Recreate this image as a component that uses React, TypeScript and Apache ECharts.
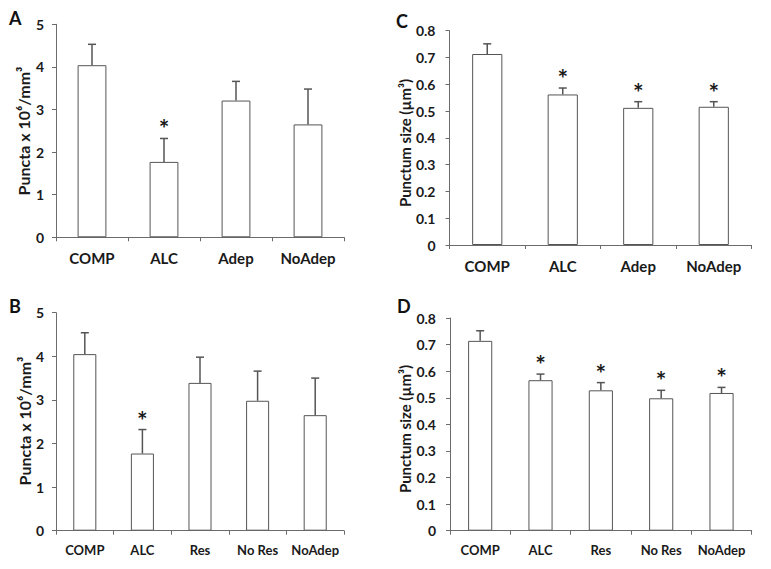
import React, { useEffect, useRef } from "react";
import * as echarts from "echarts";

const catsAC = ["COMP", "ALC", "Adep", "NoAdep"];
const catsBD = ["COMP", "ALC", "Res", "No Res", "NoAdep"];

const meanA = [4.04, 1.77, 3.21, 2.65];
const errA = [4.53, 2.32, 3.66, 3.48];
const starA = [false, true, false, false];

const meanB = [4.05, 1.77, 3.39, 2.98, 2.65];
const errB = [4.54, 2.32, 3.98, 3.66, 3.5];
const starB = [false, true, false, false, false];

const meanC = [0.713, 0.562, 0.512, 0.516];
const errC = [0.751, 0.586, 0.535, 0.535];
const starC = [false, true, true, true];

const meanD = [0.714, 0.566, 0.528, 0.498, 0.518];
const errD = [0.752, 0.589, 0.557, 0.528, 0.539];
const starD = [false, true, true, true, true];

const FONT = "Lato";
const AXIS_COLOR = "#6b6b6b";
const TEXT_COLOR = "#1a1a1a";

type Panel = {
  cats: string[];
  mean: number[];
  err: number[];
  star: boolean[];
  max: number;
  interval: number;
  name: string;
  grid: { left: number; top: number; width: number; height: number };
  labelSize: number;
  labelMargin: number;
  nameX: number;
  nameY: number;
  nameSize: number;
  decimals: number;
};

const panels: Panel[] = [
  {
    cats: catsAC, mean: meanA, err: errA, star: starA, max: 5, interval: 1,
    name: "Puncta x 10⁶/mm³",
    grid: { left: 56, top: 24.3, width: 288, height: 213 },
    labelSize: 15, labelMargin: 12, nameX: 23, nameY: 131, nameSize: 16, decimals: 0,
  },
  {
    cats: catsAC, mean: meanC, err: errC, star: starC, max: 0.8, interval: 0.1,
    name: "Punctum size (µm³)",
    grid: { left: 449.5, top: 30.7, width: 302, height: 214.3 },
    labelSize: 15, labelMargin: 14, nameX: 405, nameY: 143, nameSize: 15, decimals: 1,
  },
  {
    cats: catsBD, mean: meanB, err: errB, star: starB, max: 5, interval: 1,
    name: "Puncta x 10⁶/mm³",
    grid: { left: 56, top: 312.7, width: 288, height: 218 },
    labelSize: 13, labelMargin: 12, nameX: 24, nameY: 421, nameSize: 16, decimals: 0,
  },
  {
    cats: catsBD, mean: meanD, err: errD, star: starD, max: 0.8, interval: 0.1,
    name: "Punctum size (µm³)",
    grid: { left: 450, top: 318, width: 301.7, height: 212.7 },
    labelSize: 13, labelMargin: 14, nameX: 405, nameY: 429, nameSize: 15, decimals: 1,
  },
];

const letters = [
  { t: "A", x: 9, y: 9 },
  { t: "C", x: 396, y: 12 },
  { t: "B", x: 9, y: 297 },
  { t: "D", x: 397, y: 297 },
];

export default function App() {
  const ref = useRef<HTMLDivElement>(null);
  useEffect(() => {
    if (!ref.current) return;
    const chart = echarts.init(ref.current, undefined, { renderer: "svg" });
    const grid: any[] = [];
    const xAxis: any[] = [];
    const yAxis: any[] = [];
    const series: any[] = [];
    panels.forEach((p, i) => {
      grid.push({ ...p.grid, containLabel: false });
      xAxis.push({
        type: "category",
        gridIndex: i,
        data: p.cats,
        axisLine: { lineStyle: { color: AXIS_COLOR, width: 1 } },
        axisTick: { show: true, length: 4, lineStyle: { color: AXIS_COLOR } },
        axisLabel: {
          color: TEXT_COLOR, fontFamily: FONT, fontWeight: "bold",
          fontSize: p.labelSize, margin: 13, interval: 0,
        },
      });
      yAxis.push({
        type: "value",
        gridIndex: i,
        min: 0,
        max: p.max,
        interval: p.interval,
        splitLine: { show: false },
        axisLine: { show: true, lineStyle: { color: AXIS_COLOR, width: 1 } },
        axisTick: { show: true, length: 4, lineStyle: { color: AXIS_COLOR } },
        axisLabel: {
          color: TEXT_COLOR, fontFamily: FONT, fontWeight: "bold", fontSize: 14, margin: p.labelMargin,
          formatter: (v: number) => (v === 0 ? "0" : v.toFixed(p.decimals)),
        },
      });
      series.push({
        type: "bar",
        xAxisIndex: i,
        yAxisIndex: i,
        data: p.mean,
        barWidth: "40%",
        itemStyle: { color: "#fff", borderColor: "#555", borderWidth: 1 },
        z: 2,
      });
      const errData = p.mean.map((m, k) => [k, m, p.err[k], p.star[k] ? 1 : 0]);
      series.push({
        type: "custom",
        xAxisIndex: i,
        yAxisIndex: i,
        data: errData,
        z: 3,
        renderItem: (params: any, api: any) => {
          const x = api.value(0);
          const lo = api.coord([x, api.value(1)]);
          const hi = api.coord([x, api.value(2)]);
          const children: any[] = [
            { type: "line", shape: { x1: lo[0], y1: lo[1], x2: hi[0], y2: hi[1] }, style: { stroke: "#555", lineWidth: 1.5 } },
            { type: "line", shape: { x1: hi[0] - 4, y1: hi[1], x2: hi[0] + 4, y2: hi[1] }, style: { stroke: "#555", lineWidth: 1.5 } },
          ];
          if (api.value(3) === 1) {
            children.push({
              type: "text",
              style: {
                text: "*", x: hi[0], y: hi[1] - 10, align: "center", verticalAlign: "middle",
                fontSize: 25, fontWeight: "bold", fontFamily: FONT, fill: TEXT_COLOR,
              },
            });
          }
          return { type: "group", children };
        },
      });
    });
    const graphic: any[] = letters.map((l) => ({
      type: "text",
      left: l.x,
      top: l.y,
      style: { text: l.t, fontSize: 18, fontWeight: "bold", fontFamily: FONT, fill: "#111" },
    }));
    panels.forEach((p) => {
      graphic.push({
        type: "text",
        x: p.nameX,
        y: p.nameY,
        rotation: Math.PI / 2,
        style: {
          text: p.name, x: 0, y: 0, align: "center", verticalAlign: "middle",
          fontSize: p.nameSize, fontWeight: "bold", fontFamily: FONT, fill: TEXT_COLOR,
        },
      });
    });
    chart.setOption({
      animation: false,
      backgroundColor: "#fff",
      grid,
      xAxis,
      yAxis,
      series,
      graphic,
    });
    return () => chart.dispose();
  }, []);
  return (
    <div
      ref={ref}
      style={{ position: "fixed", left: 0, top: 0, width: 771, height: 569 }}
    />
  );
}
